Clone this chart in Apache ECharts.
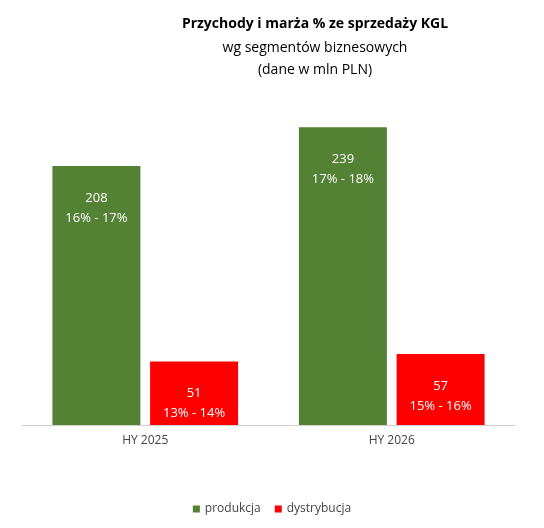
<!DOCTYPE html>
<html><head><meta charset="utf-8">
<script src="https://cdn.jsdelivr.net/npm/echarts@6/dist/echarts.min.js"></script>
<style>html,body{margin:0;background:#fff}#c{width:544px;height:528px}</style>
</head><body><div id="c"></div>
<script>
const categories = ["HY 2025", "HY 2026"];
const produkcja = [208, 239];
const produkcjaMarza = ["16% - 17%", "17% - 18%"];
const dystrybucja = [51, 57];
const dystrybucjaMarza = ["13% - 14%", "15% - 16%"];

const font = "Open Sans";
const label = (marze) => ({
  show: true, position: "insideTop", distance: 22, color: "#fff",
  fontFamily: font, fontSize: 13, lineHeight: 20,
  formatter: (p) => p.value + "\n" + marze[p.dataIndex]
});

const chart = echarts.init(document.getElementById("c"));
chart.setOption({
  animation: false,
  title: {
    text: "Przychody i marża % ze sprzedaży KGL",
    subtext: "wg segmentów biznesowych\n(dane w mln PLN)",
    left: 310, top: 12, textAlign: "center", itemGap: 6,
    textStyle: { fontFamily: font, fontSize: 14, fontWeight: "bold", color: "#000" },
    subtextStyle: { fontFamily: font, fontSize: 14, color: "#000", lineHeight: 22 }
  },
  legend: {
    bottom: 8, left: "center", itemWidth: 7, itemHeight: 7, icon: "rect", itemGap: 14,
    textStyle: { fontFamily: font, fontSize: 12, color: "#444" }
  },
  grid: { left: 22, right: 29, top: 60, bottom: 103 },
  xAxis: {
    type: "category", data: categories,
    axisLine: { lineStyle: { color: "#d0d0d0" } },
    axisTick: { show: false },
    axisLabel: { fontFamily: font, fontSize: 12, color: "#444", margin: 10 }
  },
  yAxis: { type: "value", min: 0, max: 293, show: false, splitLine: { show: false } },
  series: [
    { name: "produkcja", type: "bar", data: produkcja, barWidth: 88, barGap: "11%",
      itemStyle: { color: "#548235" }, label: label(produkcjaMarza) },
    { name: "dystrybucja", type: "bar", data: dystrybucja, barWidth: 88,
      itemStyle: { color: "#ff0000" }, label: label(dystrybucjaMarza) }
  ]
});
</script></body></html>
